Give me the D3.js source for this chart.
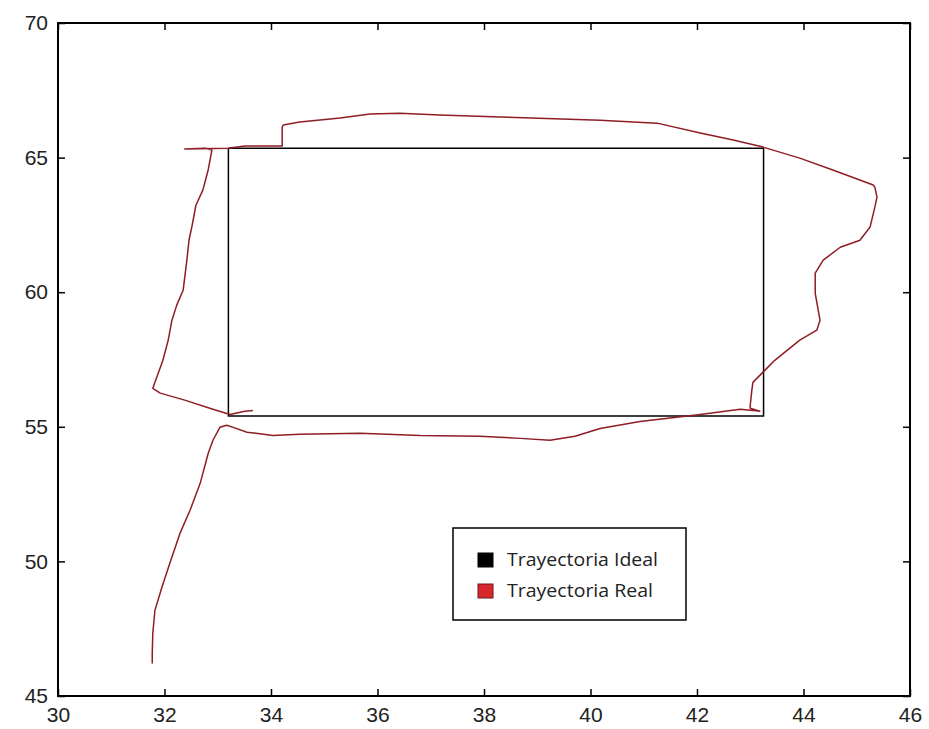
<!DOCTYPE html>
<html>
<head>
<meta charset="utf-8">
<script src="https://cdn.jsdelivr.net/npm/d3@7"></script>
<style>
  html, body { margin: 0; padding: 0; background: #fff; }
  svg { display: block; }
</style>
</head>
<body>
<svg id="chart" width="929" height="729"></svg>
<script>
// Ticks
const xTicks = [30, 32, 34, 36, 38, 40, 42, 44, 46];
const yTicks = [45, 50, 55, 60, 65, 70];

// Ideal trajectory: closed rectangle
const idealX = [33.2, 43.25, 43.25, 33.2, 33.2];
const idealY = [65.35, 65.35, 55.4, 55.4, 65.35];

// Real (measured) trajectory
const realX = [31.77, 31.77, 31.78, 31.82, 31.95, 32.10, 32.29, 32.48, 32.67, 32.82, 32.91, 33.04, 33.17, 33.29, 33.55, 34.04,
  34.54, 35.67, 36.80, 37.92, 38.68, 39.24, 39.71, 40.18, 40.93, 42.06, 42.81, 43.05, 43.18, 43.00, 43.00, 43.03,
  43.05, 43.24, 43.46, 43.93, 44.25, 44.31, 44.22, 44.22, 44.37, 44.69, 45.06, 45.25, 45.34, 45.38, 45.34, 45.31,
  44.55, 43.93, 43.24, 42.68, 42.06, 41.25, 40.18, 38.30, 37.17, 36.42, 35.86, 35.30, 34.54, 34.23, 34.21, 34.21,
  33.51, 33.19, 32.38, 32.76, 32.89, 32.82, 32.72, 32.59, 32.52, 32.46, 32.42, 32.35, 32.23, 32.14, 32.07, 31.97,
  31.78, 31.92, 32.38, 32.85, 33.23, 33.51, 33.66];
const realY = [46.21, 46.58, 47.32, 48.18, 49.03, 49.93, 51.04, 51.90, 52.90, 54.01, 54.50, 54.98, 55.06, 54.98, 54.80, 54.68,
  54.72, 54.76, 54.68, 54.65, 54.57, 54.50, 54.65, 54.94, 55.20, 55.46, 55.65, 55.61, 55.58, 55.69, 55.80, 56.36,
  56.65, 57.03, 57.47, 58.22, 58.59, 58.96, 59.96, 60.71, 61.19, 61.67, 61.93, 62.42, 63.16, 63.53, 63.90, 63.98,
  64.54, 64.98, 65.39, 65.65, 65.91, 66.28, 66.39, 66.51, 66.58, 66.65, 66.62, 66.47, 66.32, 66.21, 66.13, 65.43,
  65.43, 65.35, 65.32, 65.35, 65.28, 64.54, 63.79, 63.23, 62.49, 61.93, 61.19, 60.07, 59.52, 58.96, 58.22, 57.47,
  56.43, 56.25, 55.99, 55.69, 55.46, 55.58, 55.61];

const legendLabels = ["Trayectoria Ideal", "Trayectoria Real"];
const legendColors = ["#000000", "#d6282d"];

const svg = d3.select("#chart");
const plotL = 58, plotR = 910, plotT = 23, plotB = 696;

const x = d3.scaleLinear().domain([30, 46]).range([plotL, plotR]);
const y = d3.scaleLinear().domain([45, 70]).range([plotB, plotT]);

const line = d3.line().x(d => x(d[0])).y(d => y(d[1]));

// Ideal path
svg.append("path")
  .datum(d3.zip(idealX, idealY))
  .attr("d", line)
  .attr("fill", "none")
  .attr("stroke", "#000")
  .attr("stroke-width", 1.5);

// Real path
svg.append("path")
  .datum(d3.zip(realX, realY))
  .attr("d", line)
  .attr("fill", "none")
  .attr("stroke", "#8e1d25")
  .attr("stroke-width", 1.5)
  .attr("stroke-linejoin", "round");

// Axes with inward ticks, mirrored on top and right
const tickLen = 7;
const fontStyle = g => g.selectAll("text")
  .attr("font-family", "Liberation Sans, Arial, sans-serif")
  .attr("font-size", 21)
  .attr("fill", "#222");

const xAxis = svg.append("g").attr("transform", `translate(0,${plotB})`)
  .call(d3.axisBottom(x).tickValues(xTicks).tickFormat(d3.format("d")).tickSizeInner(-tickLen).tickSizeOuter(0).tickPadding(11));
xAxis.call(fontStyle);

const yAxis = svg.append("g").attr("transform", `translate(${plotL},0)`)
  .call(d3.axisLeft(y).tickValues(yTicks).tickFormat(d3.format("d")).tickSizeInner(-tickLen).tickSizeOuter(0).tickPadding(10));
yAxis.call(fontStyle);

const xTop = svg.append("g").attr("transform", `translate(0,${plotT})`)
  .call(d3.axisTop(x).tickValues(xTicks).tickFormat("").tickSizeInner(-tickLen).tickSizeOuter(0));
const yRight = svg.append("g").attr("transform", `translate(${plotR},0)`)
  .call(d3.axisRight(y).tickValues(yTicks).tickFormat("").tickSizeInner(-tickLen).tickSizeOuter(0));

[xAxis, yAxis, xTop, yRight].forEach(g => {
  g.select(".domain").remove();
  g.selectAll(".tick line").attr("stroke", "#000").attr("stroke-width", 1.5);
});

// Frame
svg.append("rect")
  .attr("x", plotL).attr("y", plotT)
  .attr("width", plotR - plotL).attr("height", plotB - plotT)
  .attr("fill", "none").attr("stroke", "#000").attr("stroke-width", 2);

// Legend
const lg = svg.append("g").attr("transform", "translate(453,528)");
lg.append("rect").attr("width", 233).attr("height", 92)
  .attr("fill", "#fff").attr("stroke", "#000").attr("stroke-width", 1.5);
legendLabels.forEach((lab, i) => {
  const cy = 32 + i * 31;
  lg.append("rect").attr("x", 25).attr("y", cy - 7).attr("width", 15).attr("height", 14)
    .attr("fill", legendColors[i]).attr("stroke", i ? "#6e1518" : "#000").attr("stroke-width", 1);
  lg.append("text").attr("x", 54).attr("y", cy).attr("dy", "0.35em")
    .attr("font-family", "Open Sans, sans-serif").attr("font-size", 18)
    .attr("textLength", i ? 146 : 151).attr("lengthAdjust", "spacingAndGlyphs")
    .attr("fill", "#222").text(lab);
});
</script>
</body>
</html>
